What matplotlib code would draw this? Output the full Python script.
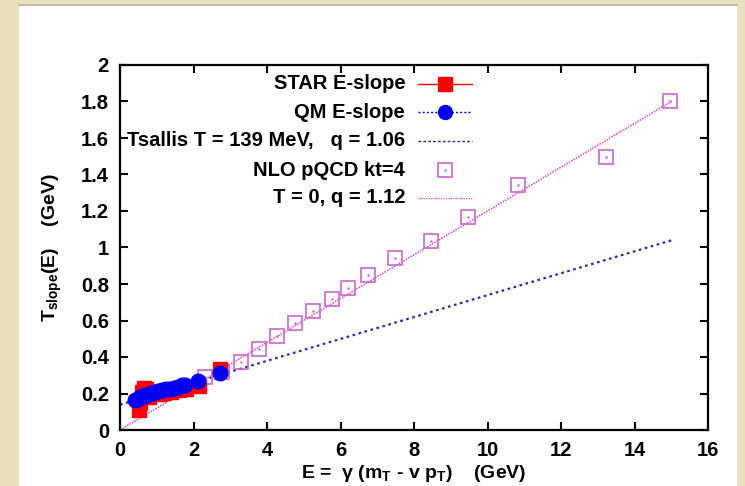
import matplotlib
matplotlib.use('Agg')
import matplotlib.pyplot as plt
from matplotlib.patches import Rectangle
from matplotlib.lines import Line2D
import numpy as np

plt.rcParams['font.family'] = ['Liberation Sans', 'DejaVu Sans']
plt.rcParams['font.weight'] = 'bold'
plt.rcParams['axes.labelweight'] = 'bold'
plt.rcParams['mathtext.fontset'] = 'custom'
plt.rcParams['mathtext.rm'] = 'Liberation Sans:bold'
plt.rcParams['mathtext.it'] = 'Liberation Sans:bold'
plt.rcParams['mathtext.bf'] = 'Liberation Sans:bold'

# STAR E-slope (red filled squares)
star_E = [0.52, 0.55, 0.60, 0.65, 0.72, 0.80, 0.90, 1.05, 1.20, 1.40, 1.60, 1.80, 2.15, 2.72]
star_T = [0.11, 0.15, 0.21, 0.23, 0.225, 0.18, 0.21, 0.20, 0.205, 0.21, 0.22, 0.225, 0.24, 0.334]

# QM E-slope (blue circles)
qm_E = [0.42, 0.48, 0.55, 0.62, 0.70, 0.78, 0.86, 0.95, 1.04, 1.14, 1.24, 1.35, 1.46, 1.58, 1.70, 1.78, 2.12, 2.72]
qm_T = [0.165, 0.172, 0.180, 0.186, 0.192, 0.197, 0.202, 0.207, 0.212, 0.217, 0.222, 0.227, 0.232, 0.238, 0.244, 0.248, 0.268, 0.310]

# NLO pQCD kt=4 (open squares)
nlo_E = [2.30, 2.77, 3.29, 3.78, 4.27, 4.76, 5.26, 5.77, 6.20, 6.75, 7.48, 8.46, 9.46, 10.84, 13.22, 14.97]
nlo_T = [0.292, 0.316, 0.375, 0.442, 0.515, 0.587, 0.653, 0.719, 0.780, 0.850, 0.940, 1.037, 1.169, 1.340, 1.496, 1.800]

# model lines: T_slope = T + (q - 1) E
tsallis_T, tsallis_q = 0.139, 1.06
zero_T, zero_q = 0.0, 1.12
line_E = [0.0, 15.0]

labels = ['STAR E-slope', 'QM E-slope', 'Tsallis T = 139 MeV,   q = 1.06',
          'NLO pQCD kt=4', 'T = 0, q = 1.12']

red = '#FF0000'
blue = '#0000EE'
navy = '#2A2AA8'
mag = '#E040E0'
orchid = '#CC66CC'
fs = 14.5

fig = plt.figure(figsize=(7.45, 4.86), dpi=100)
fig.patch.set_facecolor('#EAE0BE')
fig.patches.append(Rectangle((19 / 745, 0), (737 - 19) / 745, 481 / 486,
                             transform=fig.transFigure, facecolor='white',
                             edgecolor='none', zorder=-10))
fig.lines.append(Line2D([19 / 745, 737 / 745], [481 / 486, 481 / 486],
                        transform=fig.transFigure, color='#B8B0A0', lw=1.2, zorder=-9))

ax = fig.add_axes([120 / 745, 56 / 486, 588 / 745, 365 / 486])
ax.set_facecolor('white')

E = np.array(line_E)
ax.plot(E, tsallis_T + (tsallis_q - 1) * E, ls=(0, (1.2, 1.6)), color=navy, lw=1.6, zorder=2)
ax.plot(E, zero_T + (zero_q - 1) * E, ls=(0, (1, 0.8)), color=mag, lw=1.1, zorder=2)

ax.plot(nlo_E, nlo_T, 's', ms=10, mfc='none', mec=orchid, mew=1.2, zorder=3)
ax.plot(nlo_E, nlo_T, '.', ms=1.5, color=orchid, zorder=3)
ax.plot(star_E, star_T, 's', ms=10, color=red, mec=red, zorder=4)
ax.plot(qm_E, qm_T, 'o', ms=10.5, color=blue, mec=blue, zorder=5)

ax.set_xlim(0, 16)
ax.set_ylim(0, 2)
ax.set_xticks(range(0, 17, 2))
ax.set_yticks([0, 0.2, 0.4, 0.6, 0.8, 1, 1.2, 1.4, 1.6, 1.8, 2])
ax.set_yticklabels(['0', '0.2', '0.4', '0.6', '0.8', '1', '1.2', '1.4', '1.6', '1.8', '2'])
ax.tick_params(direction='in', length=6, width=1.5, top=True, right=True,
               labelsize=fs, pad=8)
for s in ax.spines.values():
    s.set_linewidth(1.6)

ax.set_xlabel(r'E =  $\gamma$ (m$_T$ - v p$_T$)    (GeV)', fontsize=fs - 0.5, labelpad=2)
ax.set_ylabel(r'T$_{slope}$(E)    (GeV)', fontsize=fs - 0.5, labelpad=12)

# key
tx, x0, x1 = 0.485, 0.507, 0.599
rows = [0.948, 0.871, 0.792, 0.712, 0.636]
for lab, y in zip(labels, rows):
    ax.text(tx, y, lab, transform=ax.transAxes, ha='right', va='center',
            fontsize=fs, fontweight='bold')
xm = (x0 + x1) / 2
kw = dict(transform=ax.transAxes, clip_on=False)
ax.plot([x0, x1], [rows[0]] * 2, color=red, lw=1, **kw)
ax.plot([xm], [rows[0]], 's', ms=10, color=red, **kw)
ax.plot([x0, x1], [rows[1]] * 2, color=blue, lw=1, ls=(0, (1.5, 1.5)), **kw)
ax.plot([xm], [rows[1]], 'o', ms=10, color=blue, **kw)
ax.plot([x0, x1], [rows[2]] * 2, color=navy, lw=1, ls=(0, (2, 1.5)), **kw)
ax.plot([xm], [rows[3]], 's', ms=10, mfc='none', mec=orchid, mew=1.2, **kw)
ax.plot([xm], [rows[3]], '.', ms=1.5, color=orchid, **kw)
ax.plot([x0, x1], [rows[4]] * 2, color=mag, lw=0.9, ls=(0, (1, 1)), **kw)

fig.savefig('out.png', dpi=100)
